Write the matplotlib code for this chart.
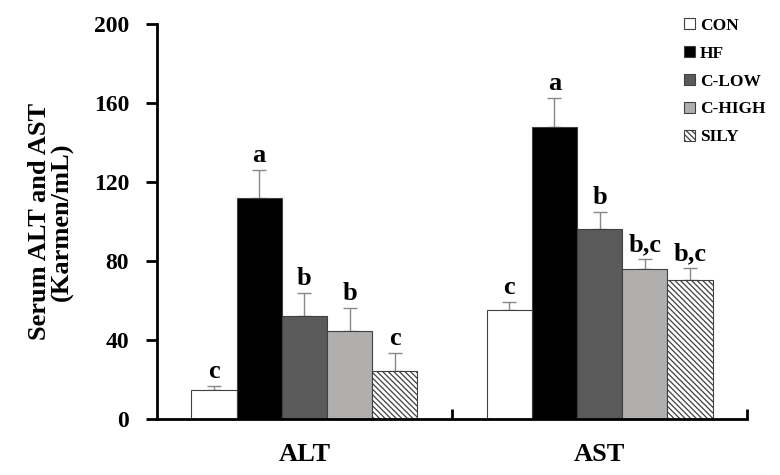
import matplotlib.pyplot as plt
import numpy as np

# Dados
categorias = ["ALT", "AST"]
grupos = ["CON", "HF", "C-LOW", "C-HIGH", "SILY"]
medias = [
    [14.5, 112, 52, 44.5, 24.5],   # ALT
    [55, 148, 96, 76, 70.5],       # AST
]
erros = [
    [2, 14, 12, 11.5, 9],          # ALT
    [4.5, 14.5, 9, 5, 6],          # AST
]
letras = [
    ["c", "a", "b", "b", "c"],
    ["c", "a", "b", "b,c", "b,c"],
]

cores = ["white", "black", "#5a5a5a", "#b1afad", "white"]
hachuras = [None, None, None, None, "\\\\\\\\\\\\"]

plt.rcParams["font.family"] = ["Liberation Serif", "DejaVu Serif"]
plt.rcParams["font.weight"] = "bold"
plt.rcParams["hatch.linewidth"] = 0.9

fig = plt.figure(figsize=(7.8, 4.75), dpi=100)
ax = fig.add_axes([0.201, 0.118, 0.757, 0.831])

x = np.arange(len(categorias))
largura = 0.153
n = len(grupos)

for j in range(n):
    pos = x + (j - (n - 1) / 2) * largura
    alturas = [medias[i][j] for i in range(len(categorias))]
    errs = [erros[i][j] for i in range(len(categorias))]
    ax.bar(pos, alturas, largura, color=cores[j], edgecolor="#404040",
           linewidth=0.8, hatch=hachuras[j], label=grupos[j], zorder=2)
    ax.errorbar(pos, alturas, yerr=[[0] * len(errs), errs], fmt="none",
                ecolor="#888888", elinewidth=1, capsize=5, capthick=1, zorder=1)
    for i in range(len(categorias)):
        ax.text(pos[i], alturas[i] + errs[i] + 1.5, letras[i][j],
                ha="center", va="bottom", fontsize=19, fontweight="bold")

ax.set_xlim(-0.5, 1.5)
ax.set_ylim(0, 200)
ax.set_yticks([0, 40, 80, 120, 160, 200])
ax.tick_params(axis="y", direction="out", length=8, width=2, labelsize=17, pad=12)

ax.set_xticks([0.5, 1.5])
ax.set_xticklabels([])
ax.tick_params(axis="x", which="major", direction="in", length=7, width=2)
ax.set_xticks(x, minor=True)
ax.set_xticklabels(categorias, minor=True, fontsize=19, fontweight="bold")
ax.tick_params(axis="x", which="minor", length=0, pad=17)

for lado in ["top", "right"]:
    ax.spines[lado].set_visible(False)
for lado in ["left", "bottom"]:
    ax.spines[lado].set_linewidth(2)

ax.set_ylabel("Serum ALT and AST\n(Karmen/mL)", fontsize=19, fontweight="bold",
              labelpad=14, linespacing=1.0)

fig.legend(loc="upper left", bbox_to_anchor=(0.857, 0.995), frameon=False,
           prop={"size": 12.5, "weight": "bold"}, handlelength=0.6,
           handleheight=0.6, handletextpad=0.3, labelspacing=0.68)

plt.savefig("out.png", dpi=100)
